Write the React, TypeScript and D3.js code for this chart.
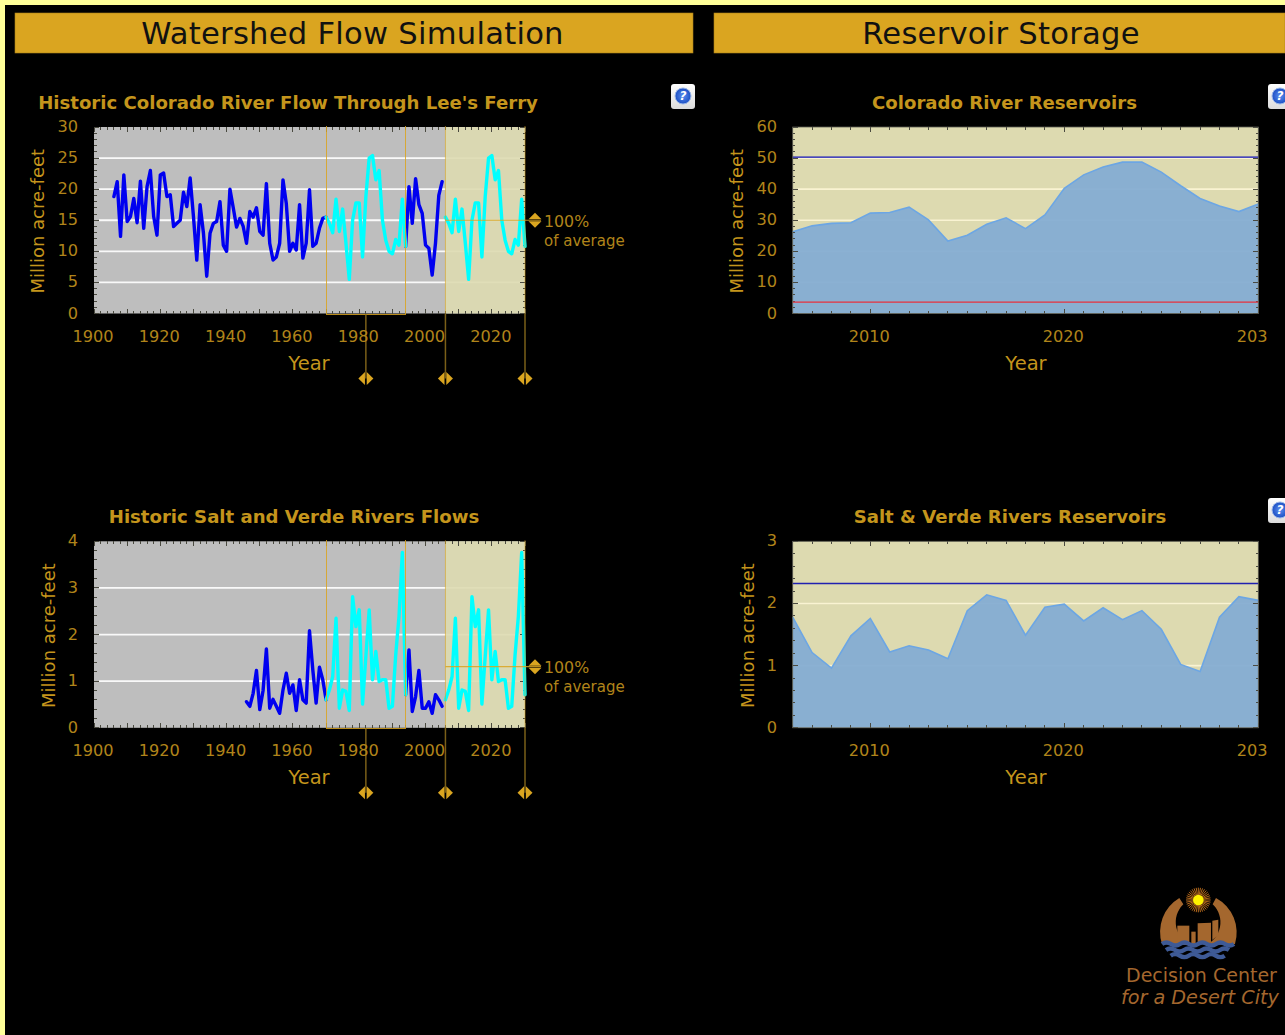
import React from "react";
import * as d3 from "d3";

// ---------- DATA ----------
const coloradoStart = 1906;
const coloradoFlow = [
  18.8, 21.2, 12.4, 22.3, 14.8, 15.6, 18.5, 14.6, 21.3, 13.7,
  20.4, 23.0, 15.6, 12.6, 22.3, 22.6, 18.8, 19.1, 14.0, 14.5,
  15.0, 19.5, 17.2, 21.8, 15.6, 8.6, 17.5, 13.0, 6.0, 12.9,
  14.5, 14.8, 18.0, 11.0, 10.0, 20.0, 17.0, 13.9, 15.3, 14.0,
  11.3, 16.4, 15.5, 17.0, 13.2, 12.6, 20.9, 11.3, 8.6, 9.1,
  11.3, 21.5, 17.7, 10.0, 11.3, 10.2, 17.5, 8.9, 11.3, 19.9,
  10.8, 11.3, 13.7, 15.3, 15.5, 14.5, 13.0, 18.4, 13.2, 16.8,
  11.3, 5.5, 15.0, 17.8, 17.8, 9.1, 18.8, 25.0, 25.4, 21.5,
  23.0, 15.0, 11.8, 10.0, 9.6, 11.9, 11.0, 18.4, 10.8, 20.4,
  14.5, 21.7, 17.5, 16.1, 11.0, 10.5, 6.2, 11.3, 19.0, 21.2,
];
const saltStart = 1946;
const saltFlow = [
  0.56, 0.46, 0.74, 1.23, 0.39, 0.8, 1.69, 0.42, 0.61, 0.46,
  0.31, 0.81, 1.17, 0.74, 0.92, 0.37, 1.03, 0.6, 0.53, 2.08,
  1.24, 0.53, 1.3, 1.03, 0.6, 0.81, 1.1, 2.35, 0.42, 0.81,
  0.78, 0.37, 2.81, 2.17, 2.53, 0.51, 1.53, 2.53, 1.03, 1.64,
  0.99, 1.03, 1.03, 0.42, 0.46, 1.56, 2.39, 3.76, 0.71, 1.67,
  0.35, 0.67, 1.23, 0.42, 0.42, 0.56, 0.31, 0.71, 0.6, 0.46,
];
const windowStart = 1970;
const windowEnd = 1994;
const windowMid = 1982;
const forecastStart = 2006;
const forecastEnd = 2030;
const coloradoAverage = 15.0;
const saltAverage = 1.31;

const storageYears = d3.range(2006, 2031);
const coloradoStorage = [
  26.3, 28.2, 29.0, 29.2, 32.3, 32.5, 34.2, 30.1, 23.3, 25.2, 28.7, 30.8, 27.3,
  31.7, 40.3, 44.6, 47.1, 48.7, 48.7, 45.5, 41.1, 37.0, 34.6, 32.8, 35.2,
];
const saltStorage = [
  1.78, 1.21, 0.96, 1.48, 1.76, 1.22, 1.32, 1.25, 1.11, 1.885, 2.14, 2.05, 1.49,
  1.94, 1.99, 1.72, 1.93, 1.74, 1.885, 1.585, 1.02, 0.905, 1.78, 2.11, 2.05,
];
const coloradoCapacity = 50.3;
const coloradoDeadPool = 3.65;
const saltCapacity = 2.32;

const headers = ["Watershed Flow Simulation", "Reservoir Storage"];
const flowTitles = ["Historic Colorado River Flow Through Lee's Ferry", "Historic Salt and Verde Rivers Flows"];
const storageTitles = ["Colorado River Reservoirs", "Salt & Verde Rivers Reservoirs"];
const yLabel = "Million acre-feet";
const xLabel = "Year";
const flowXTicks = [1900, 1920, 1940, 1960, 1980, 2000, 2020];
const storageXTicks = [2010, 2020, 2030];

// ---------- STYLE ----------
const FONT = "'DejaVu Sans', Verdana, sans-serif";
const TICK = "#B0841A";
const GOLD = "#C4951C";
const BAR = "#DAA520";
const GRAY = "#BEBEBE";
const CREAM = "#DDDAB0";
const TICKCOL = "#4a4a40";
const HANDLE = "#7A5F18";

type Pt = { y: number; v: number };
const series = (start: number, vals: number[]): Pt[] => vals.map((v, i) => ({ y: start + i, v }));

function Ticks({ x, y, xMinor, xMajor, yMinor, yMajor }: any) {
  const [x0, x1] = x.range();
  const [y0, y1] = y.range(); // bottom, top
  const d: string[] = [];
  xMinor.forEach((t: number) => {
    const l = xMajor.includes(t) ? 5 : 3;
    d.push(`M${x(t)},${y1}v${l}M${x(t)},${y0}v${-l}`);
  });
  yMinor.forEach((t: number) => {
    const l = yMajor.includes(t) ? 5 : 2.5;
    d.push(`M${x0},${y(t)}h${l}M${x1},${y(t)}h${-l}`);
  });
  return <path d={d.join("")} stroke={TICKCOL} strokeWidth={1} fill="none" shapeRendering="crispEdges" />;
}

function AxisText({ x, y, xTicks, yTicks, labelX, yLabelX, tickEnd, titleX, title, clip }: any) {
  const [y0, y1] = y.range();
  const midY = (y0 + y1) / 2 + 1;
  return (
    <g fontFamily={FONT}>
      <text x={titleX} y={y1 - 23} fontSize={18.1} fontWeight="bold" fill={GOLD} textAnchor="middle" dominantBaseline="middle">{title}</text>
      {yTicks.map((t: number) => (
        <text key={t} x={tickEnd} y={y(t) + 0.5} fontSize={16.2} fill={TICK} textAnchor="end" dominantBaseline="middle">{t}</text>
      ))}
      <g clipPath={clip}>
        {xTicks.map((t: number) => (
          <text key={t} x={x(t) - 1} y={y0 + 23.5} fontSize={16.2} fill={TICK} textAnchor="middle" dominantBaseline="middle">{t}</text>
        ))}
      </g>
      <text x={labelX} y={y0 + 51} fontSize={19.5} fill={GOLD} textAnchor="middle" dominantBaseline="middle">{xLabel}</text>
      <text transform={`translate(${yLabelX},${midY}) rotate(-90)`} fontSize={18} fill={GOLD} textAnchor="middle" dominantBaseline="middle">{yLabel}</text>
    </g>
  );
}

function Diamond({ cx, cy, vertical }: { cx: number; cy: number; vertical?: boolean }) {
  if (vertical) {
    return (
      <g fill={BAR}>
        <path d={`M${cx - 6.5},${cy - 1}L${cx},${cy - 7.5}L${cx + 6.5},${cy - 1}Z`} />
        <path d={`M${cx - 6.5},${cy + 1}L${cx},${cy + 7.5}L${cx + 6.5},${cy + 1}Z`} />
      </g>
    );
  }
  return (
    <g fill={BAR}>
      <path d={`M${cx - 0.9},${cy - 6.5}L${cx - 7.5},${cy}L${cx - 0.9},${cy + 6.5}Z`} />
      <path d={`M${cx + 0.9},${cy - 6.5}L${cx + 7.5},${cy}L${cx + 0.9},${cy + 6.5}Z`} />
    </g>
  );
}

function FlowPanel({ top, start, vals, avg, yMax, yStep, yMinorStep, title, titleX, yLabelX }: any) {
  const x = d3.scaleLinear().domain([1900, 2030]).range([94, 525]);
  const y = d3.scaleLinear().domain([0, yMax]).range([top + 186.5, top]);
  const [y0, y1] = y.range();
  const yMajor = d3.range(0, yMax + 1e-6, yStep);
  const yMinor = d3.range(0, yMax + 1e-6, yMinorStep).map((v) => +v.toFixed(3));
  const line = d3.line<Pt>().x((d) => x(d.y)).y((d) => y(d.v));
  const all = series(start, vals);
  const before = all.filter((d) => d.y <= windowStart);
  const inWin = all.filter((d) => d.y >= windowStart && d.y <= windowEnd);
  const after = all.filter((d) => d.y >= windowEnd);
  const replay = inWin.map((d) => ({ y: d.y + (forecastStart - windowStart), v: d.v }));
  const grid = yMajor.filter((v) => v > 0 && v < yMax);
  const handleY = y0 + 65;
  return (
    <g>
      <rect x={x(1900)} y={y1} width={x(2030) - x(1900)} height={y0 - y1} fill={GRAY} />
      {grid.map((v) => (
        <line key={v} x1={x(1900) + 5} x2={x(2030)} y1={y(v)} y2={y(v)} stroke="#fff" strokeWidth={1.8} opacity={0.92} />
      ))}
      <rect x={x(forecastStart)} y={y1} width={x(forecastEnd) - x(forecastStart)} height={y0 - y1} fill={CREAM} opacity={0.9} />
      <Ticks x={x} y={y} xMinor={d3.range(1900, 2031, 2)} xMajor={d3.range(1900, 2031, 10)} yMinor={yMinor} yMajor={yMajor} />
      <g fill="none" strokeLinejoin="round" strokeLinecap="round" strokeWidth={3.4}>
        <path d={line(before) || ""} stroke="#0000F0" />
        <path d={line(after) || ""} stroke="#0000F0" />
        <path d={line(inWin) || ""} stroke="#00FFFF" />
        <path d={line(replay) || ""} stroke="#00FFFF" />
      </g>
      {/* selection window */}
      <path d={`M${x(windowStart)},${y1 - 1}V${y0 + 1}H${x(windowEnd)}V${y1 - 1}`} fill="none" stroke={BAR} strokeWidth={1} opacity={0.85} shapeRendering="crispEdges" />
      <path d={`M${x(windowMid)},${y0 + 1}V${handleY}`} stroke={HANDLE} strokeWidth={1.5} />
      <path d={`M${x(forecastStart)},${y1 - 1}V${y0}M${x(forecastEnd)},${y1 - 1}V${y0}`} stroke={BAR} strokeWidth={1} opacity={0.6} />
      <path d={`M${x(forecastStart)},${y0}V${handleY}M${x(forecastEnd)},${y0}V${handleY}`} stroke={HANDLE} strokeWidth={1.5} />
      {[windowMid, forecastStart, forecastEnd].map((t) => <Diamond key={t} cx={x(t)} cy={handleY} />)}
      {/* average */}
      <line x1={x(forecastStart)} x2={541} y1={y(avg)} y2={y(avg)} stroke={BAR} strokeWidth={1.2} opacity={0.85} />
      <Diamond cx={535} cy={y(avg)} vertical />
      <text x={544} y={y(avg) + 2} fontFamily={FONT} fontSize={15.8} fill={TICK} dominantBaseline="middle">100%</text>
      <text x={544} y={y(avg) + 21} fontFamily={FONT} fontSize={15} fill={TICK} dominantBaseline="middle">of average</text>
      <AxisText x={x} y={y} xTicks={flowXTicks} yTicks={yMajor} labelX={309} yLabelX={yLabelX} tickEnd={78} titleX={titleX} title={title} />
    </g>
  );
}

function StoragePanel({ top, vals, caps, yMax, yStep, yMinorStep, title, titleX, yLabelX }: any) {
  const x = d3.scaleLinear().domain([2006, 2030]).range([792.7, 1258.3]);
  const y = d3.scaleLinear().domain([0, yMax]).range([top + 186.5, top]);
  const [y0, y1] = y.range();
  const data: Pt[] = storageYears.map((yr, i) => ({ y: yr, v: vals[i] }));
  const area = d3.area<Pt>().x((d) => x(d.y)).y0(y0).y1((d) => y(d.v));
  const line = d3.line<Pt>().x((d) => x(d.y)).y((d) => y(d.v));
  const yMajor = d3.range(0, yMax + 1e-6, yStep);
  const yMinor = d3.range(0, yMax + 1e-6, yMinorStep).map((v) => +v.toFixed(3));
  return (
    <g>
      <rect x={x(2006)} y={y1} width={x(2030) - x(2006)} height={y0 - y1} fill={CREAM} />
      {yMajor.filter((v) => v > 0 && v < yMax).map((v) => (
        <line key={v} x1={x(2006) + 5} x2={x(2030)} y1={y(v)} y2={y(v)} stroke="#FFF8D8" strokeWidth={1.6} opacity={0.85} />
      ))}
      <path d={area(data) || ""} fill="#84ACD2" opacity={0.94} />
      <path d={line(data) || ""} fill="none" stroke="#6CA6E4" strokeWidth={1.6} />
      <Ticks x={x} y={y} xMinor={storageYears} xMajor={storageXTicks} yMinor={yMinor} yMajor={yMajor} />
      {caps.map((c: any) => (
        <line key={c.v} x1={x(2006)} x2={x(2030)} y1={y(c.v)} y2={y(c.v)} stroke={c.color} strokeWidth={1.4} />
      ))}
      <rect x={x(2006)} y={y1} width={x(2030) - x(2006)} height={y0 - y1} fill="none" stroke="#5a5a50" strokeWidth={0.8} />
      <AxisText x={x} y={y} xTicks={storageXTicks} yTicks={yMajor} labelX={1026} yLabelX={yLabelX} tickEnd={777} titleX={titleX} title={title} clip="url(#labelClip)" />
    </g>
  );
}

function Help({ x, y }: { x: number; y: number }) {
  return (
    <g>
      <rect x={x} y={y} width={24} height={25} rx={3} fill="url(#helpBg)" />
      <circle cx={x + 12} cy={y + 12} r={8} fill="url(#helpBlue)" stroke="#9DB8E8" strokeWidth={1} />
      <text x={x + 12} y={y + 12.5} fontFamily={FONT} fontSize={12} fontWeight="bold" fontStyle="italic" fill="#fff" textAnchor="middle" dominantBaseline="middle">?</text>
    </g>
  );
}

function Logo() {
  const rays = d3.range(0, 360, 10).map((a) => {
    const r = (a * Math.PI) / 180;
    const c = 295, m = 90;
    return `M${c + 15 * Math.cos(r)},${m + 15 * Math.sin(r)}L${c + 37 * Math.cos(r)},${m + 37 * Math.sin(r)}`;
  });
  const brown = "#A4672E";
  const band = (x0: number, yy: number, n: number) =>
    `M${x0},${yy} q13,-9 27,0` + " t27,0".repeat(n);
  return (
    <g>
      <g transform="translate(1100,870) scale(0.3333)">
        <path d="M238,84 L250,103 A74 74 0 0 0 276,226 L186,222 A118 118 0 0 1 238,84Z" fill={brown} />
        <path d="M348,84 L338,103 A74 74 0 0 1 314,226 L405,222 A118 118 0 0 0 348,84Z" fill={brown} />
        <rect x={232} y={167} width={36} height={55} fill={brown} />
        <rect x={274} y={185} width={13} height={38} fill={brown} />
        <path d="M293,160 L333,158 L333,218 L293,224Z" fill={brown} />
        <path d="M337,152 L355,149 L355,195 L337,210Z" fill={brown} />
        <g fill="none" stroke="#3E5A96" strokeWidth={13}>
          <path d={band(186, 222, 7)} />
          <path d={band(198, 240, 6)} />
          <path d={band(212, 257, 5)} />
        </g>
        <path d={rays.join("")} stroke="#B5691C" strokeWidth={3} />
        <circle cx={295} cy={90} r={16} fill="#FFF200" />
      </g>
      <text x={1126} y={976} fontFamily={FONT} fontSize={19} fill={brown} dominantBaseline="middle">Decision Center</text>
      <text x={1121} y={998} fontFamily={FONT} fontSize={19.2} fontStyle="italic" fill={brown} dominantBaseline="middle">for a Desert City</text>
    </g>
  );
}

export default function App() {
  return (
    <svg width={1285} height={1035} style={{ position: "fixed", left: 0, top: 0, display: "block", background: "#000" }}>
      <defs>
        <clipPath id="labelClip"><rect x={0} y={0} width={1268} height={1035} /></clipPath>
        <linearGradient id="helpBg" x1="0" y1="0" x2="0" y2="1">
          <stop offset="0" stopColor="#ffffff" />
          <stop offset="1" stopColor="#dcdcdc" />
        </linearGradient>
        <radialGradient id="helpBlue">
          <stop offset="0" stopColor="#5C8FF0" />
          <stop offset="1" stopColor="#1C4FC4" />
        </radialGradient>
      </defs>
      <rect x={0} y={0} width={1285} height={5} fill="#FFFF99" />
      <rect x={0} y={0} width={5} height={1035} fill="#FFFF99" />

      <rect x={15} y={13} width={678} height={40} fill={BAR} stroke="#A87F18" strokeWidth={0.6} />
      <rect x={714} y={13} width={571} height={40} fill={BAR} stroke="#A87F18" strokeWidth={0.6} />
      <text x={352.5} y={35.5} fontFamily={FONT} fontSize={30.6} letterSpacing={0.25} fill="#111" textAnchor="middle" dominantBaseline="middle">{headers[0]}</text>
      <text x={1001} y={35.5} fontFamily={FONT} fontSize={30.6} letterSpacing={0.25} fill="#111" textAnchor="middle" dominantBaseline="middle">{headers[1]}</text>

      <FlowPanel top={127} start={coloradoStart} vals={coloradoFlow} avg={coloradoAverage} yMax={30} yStep={5} yMinorStep={1} title={flowTitles[0]} titleX={288} yLabelX={39} />
      <FlowPanel top={541.3} start={saltStart} vals={saltFlow} avg={saltAverage} yMax={4} yStep={1} yMinorStep={0.2} title={flowTitles[1]} titleX={294} yLabelX={50} />
      <StoragePanel top={127} vals={coloradoStorage} caps={[{ v: coloradoCapacity, color: "#1010B8" }, { v: coloradoDeadPool, color: "#E8303C" }]} yMax={60} yStep={10} yMinorStep={2} title={storageTitles[0]} titleX={1004.5} yLabelX={738} />
      <StoragePanel top={541.3} vals={saltStorage} caps={[{ v: saltCapacity, color: "#2020B0" }]} yMax={3} yStep={1} yMinorStep={0.2} title={storageTitles[1]} titleX={1010} yLabelX={749} />

      <Help x={671} y={84} />
      <Help x={1268} y={84} />
      <Help x={1268} y={498} />
      <Logo />
    </svg>
  );
}
